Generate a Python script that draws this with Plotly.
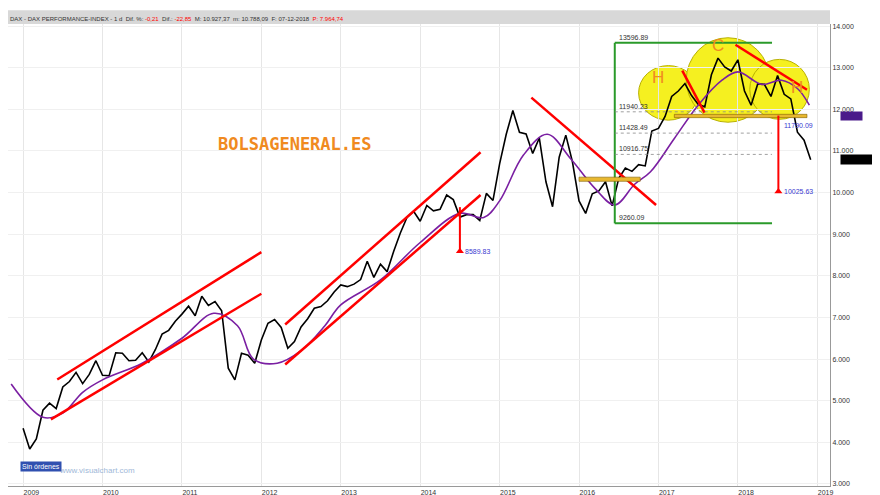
import plotly.graph_objects as go

# monthly closes, Jan 2009 .. Dec 2018
years = list(range(2009, 2019))
closes = [
    [4340, 3840, 4080, 4770, 4940, 4810, 5330, 5460, 5680, 5410, 5630, 5960],
    [5610, 5600, 6150, 6140, 5960, 5970, 6150, 5930, 6230, 6600, 6690, 6910],
    [7080, 7270, 7040, 7510, 7290, 7380, 7160, 5780, 5500, 6140, 6090, 5900],
    [6460, 6860, 6950, 6760, 6260, 6420, 6770, 6970, 7220, 7260, 7400, 7610],
    [7780, 7740, 7800, 7910, 8350, 7960, 8280, 8100, 8590, 9030, 9400, 9550],
    [9310, 9690, 9560, 9600, 9940, 9830, 9410, 9470, 9470, 9330, 9980, 9810],
    [10690, 11400, 11970, 11450, 11410, 10940, 11310, 10260, 9660, 10850, 11380, 10740],
    [9800, 9500, 9970, 10040, 10260, 9680, 10340, 10590, 10510, 10670, 10640, 11480],
    [11540, 11830, 12310, 12440, 12620, 12330, 12120, 12060, 12830, 13230, 13020, 12920],
    [13190, 12440, 12100, 12610, 12600, 12310, 12810, 12360, 12250, 11450, 11260, 10790],
]
ma_x = [2008.85, 2009.25, 2009.5, 2009.75, 2010.0, 2010.5, 2011.0, 2011.4, 2011.7, 2011.9,
        2012.2, 2012.5, 2012.8, 2013.0, 2013.5, 2014.0, 2014.5, 2014.8, 2015.0, 2015.3,
        2015.6, 2015.9, 2016.2, 2016.45, 2016.7, 2016.9, 2017.2, 2017.5, 2017.8, 2018.0,
        2018.3, 2018.55, 2018.75, 2018.9]
ma_y = [5400, 4600, 4700, 5200, 5500, 5900, 6500, 7100, 6800, 6000,
        5900, 6200, 6800, 7300, 7900, 8800, 9500, 9400, 9800, 10900,
        11400, 10800, 10100, 9700, 10200, 10500, 11300, 12100, 12700, 12900,
        12600, 12700, 12500, 12100]

# trend lines: (x0, y0, x1, y1)
red_lines = [
    (2009.43, 5510, 2012.0, 8570),
    (2009.35, 4550, 2012.0, 7570),
    (2012.3, 6830, 2014.76, 10970),
    (2012.3, 5870, 2014.76, 9940),
    (2015.4, 12280, 2016.97, 9700),
    (2017.3, 12930, 2017.58, 11920),
    (2017.97, 13550, 2018.87, 12470),
]
fibo_levels = [13596.89, 11940.23, 11428.49, 10916.75, 9260.09]
ellipses = [(2016.75, 11740, 2017.5, 13050), (2017.35, 11690, 2018.4, 13720), (2018.15, 11760, 2018.9, 13200)]
letters = [("H", 2017.0, 12760), ("C", 2017.75, 13530), ("H", 2018.75, 12520)]

px_x = [y + m / 12 for y in years for m in range(12)]
px_y = [v for row in closes for v in row]

fig = go.Figure()
fig.add_trace(go.Scatter(x=px_x, y=px_y, mode="lines", line=dict(color="black", width=1.6)))
fig.add_trace(go.Scatter(x=ma_x, y=ma_y, mode="lines", line=dict(color="#7a1fa2", width=1.6, shape="spline")))

for x0, y0, x1, y1 in ellipses:
    fig.add_shape(type="circle", x0=x0, y0=y0, x1=x1, y1=y1, layer="below",
                  fillcolor="#f5f020", line=dict(color="#b8b000", width=1))
for x0, y0, x1, y1 in red_lines:
    fig.add_shape(type="line", x0=x0, y0=y0, x1=x1, y1=y1, line=dict(color="red", width=2.5))

# fibonacci box
bx0, bx1 = 2016.45, 2018.43
fig.add_shape(type="line", x0=bx0, x1=bx0, y0=fibo_levels[-1], y1=fibo_levels[0], line=dict(color="#2a9a2a", width=2))
for lv in (fibo_levels[0], fibo_levels[-1]):
    fig.add_shape(type="line", x0=bx0, x1=bx1, y0=lv, y1=lv, line=dict(color="#2a9a2a", width=2))
for lv in fibo_levels[1:4]:
    fig.add_shape(type="line", x0=bx0, x1=bx1, y0=lv, y1=lv, line=dict(color="#888", width=0.8, dash="dot"))
for lv in fibo_levels:
    fig.add_annotation(x=bx0 + 0.03, y=lv, text=f"{lv:.2f}", showarrow=False, xanchor="left",
                       yanchor="bottom", font=dict(size=7, color="#333"))

# neckline bars
fig.add_shape(type="rect", x0=2017.2, x1=2018.87, y0=11800, y1=11880, fillcolor="#e8b830", line=dict(color="#806000", width=0.6))
fig.add_shape(type="rect", x0=2016.0, x1=2016.77, y0=10270, y1=10370, fillcolor="#e8b830", line=dict(color="#806000", width=0.6))

for t, x, y in letters:
    fig.add_annotation(x=x, y=y, text=t, showarrow=False, font=dict(size=17, color="#f08a20", family="Liberation Sans"))

# target arrows
for x, ytop, ybot, lab in [(2018.51, 11850, 10025.63, "10025.63"), (2014.5, 9650, 8589.83, "8589.83")]:
    fig.add_shape(type="line", x0=x, x1=x, y0=ytop, y1=ybot, line=dict(color="red", width=2))
    fig.add_trace(go.Scatter(x=[x], y=[ybot], mode="markers", marker=dict(symbol="triangle-up", color="red", size=7)))
    fig.add_annotation(x=x + 0.04, y=ybot, text=lab, showarrow=False, xanchor="left", font=dict(size=7, color="#3a3ad0"))
fig.add_annotation(x=2018.55, y=11600, text="11790.09", showarrow=False, xanchor="left", font=dict(size=7, color="#3a3ad0"))

fig.add_annotation(x=208 / 822, y=1 - (124 - 16) / 462, xref="paper", yref="paper", text="<b>BOLSAGENERAL.ES</b>",
                   showarrow=False, font=dict(size=17, color="#f08a20", family="DejaVu Sans Mono"))
fig.add_annotation(x=0.06, y=0.02, xref="paper", yref="paper", text="www.visualchart.com", showarrow=False,
                   xanchor="left", font=dict(size=8, color="#a0b8d8"))
fig.add_annotation(x=0.015, y=0.03, xref="paper", yref="paper", text="Sin órdenes", showarrow=False,
                   bgcolor="#3050b0", font=dict(size=7, color="white"))
fig.add_annotation(x=1.012, y=11830, xref="paper", text="12.050", showarrow=False, xanchor="left",
                   bgcolor="#4a1a8a", font=dict(size=6, color="#4a1a8a"))
fig.add_annotation(x=1.012, y=10788, xref="paper", text="10.788,09", showarrow=False, xanchor="left",
                   bgcolor="black", font=dict(size=7, color="black"))
fig.add_annotation(x=0, y=1.0, xref="paper", yref="paper", yanchor="bottom", xanchor="left", showarrow=False,
                   text="DAX - DAX PERFORMANCE-INDEX - 1 d  Dif. %: <span style='color:red'>-0,21</span>  Dif.: "
                        "<span style='color:red'>-22,85</span>  M: 10.927,37  m: 10.788,09  F: 07-12-2018  "
                        "<span style='color:red'>P: 7.964,74</span>",
                   font=dict(size=6, color="#333"))
fig.add_shape(type="rect", xref="paper", yref="paper", x0=0, x1=1, y0=1.0, y1=1.03, fillcolor="#d8d8d8",
              line=dict(width=0), layer="below")

fig.update_layout(
    width=880, height=495, showlegend=False, plot_bgcolor="white", paper_bgcolor="white",
    margin=dict(l=0, r=58, t=16, b=17), font=dict(family="Liberation Sans", size=7, color="#333"),
    xaxis=dict(range=[2008.81, 2019.16], tickvals=list(range(2009, 2020)),
               ticktext=[str(y) for y in range(2009, 2020)], showgrid=True, gridcolor="#e6e6e6",
               ticklabelposition="outside right", zeroline=False, showline=True, linecolor="#999"),
    yaxis=dict(range=[2950, 14050], side="right", tickvals=list(range(3000, 15000, 1000)),
               ticktext=[f"{v // 1000}.000" for v in range(3000, 15000, 1000)], showgrid=True,
               gridcolor="#f0f0f0", zeroline=False, showline=True, linecolor="#999"),
)
fig.write_html("out.html")
